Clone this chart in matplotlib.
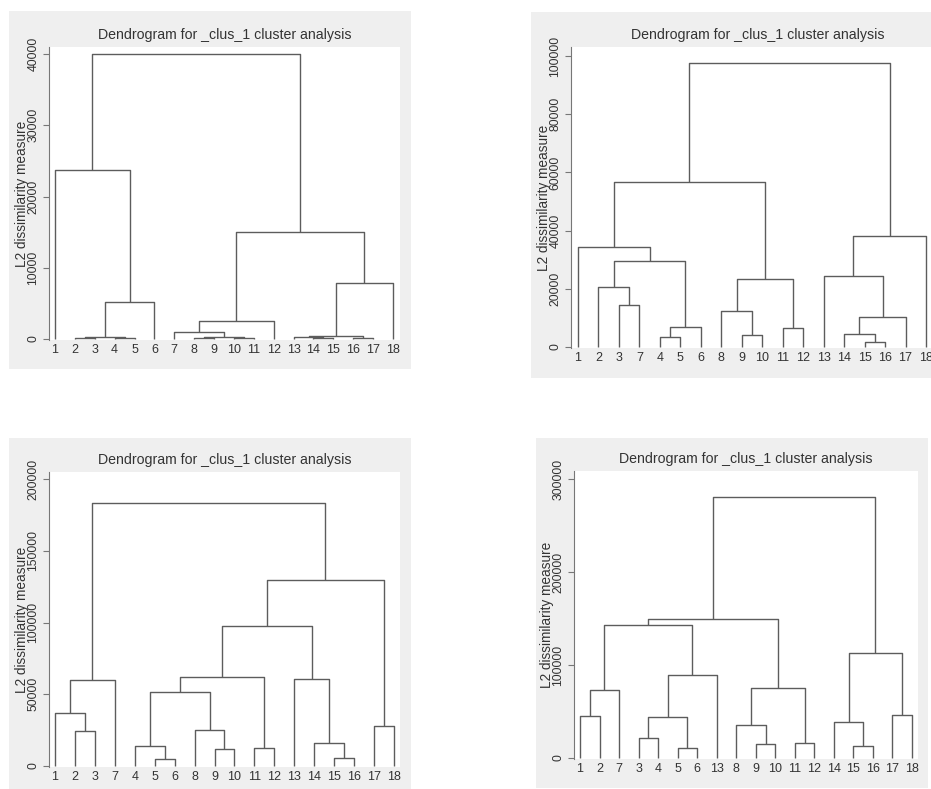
import matplotlib.pyplot as plt
from matplotlib.patches import Rectangle

# titulo e eixo (iguais nos quatro graficos)
title = 'Dendrogram for _clus_1 cluster analysis'
ylabel = 'L2 dissimilarity measure'

# ordem das folhas em cada dendrograma
order1 = [1, 2, 3, 4, 5, 6, 7, 8, 9, 10, 11, 12, 13, 14, 15, 16, 17, 18]
order2 = [1, 2, 3, 7, 4, 5, 6, 8, 9, 10, 11, 12, 13, 14, 15, 16, 17, 18]
order3 = [1, 2, 3, 7, 4, 5, 6, 8, 9, 10, 11, 12, 13, 14, 15, 16, 17, 18]
order4 = [1, 2, 7, 3, 4, 5, 6, 13, 8, 9, 10, 11, 12, 14, 15, 16, 17, 18]

# fusoes no estilo do hclust do R: negativo = folha, positivo = fusao anterior (1..)
merges1 = [(-4, -5, 90), (-2, -3, 150), (2, 1, 350), (3, -6, 5150), (-1, 4, 23700),
           (-8, -9, 100), (-10, -11, 120), (6, 7, 220), (-7, 8, 980), (9, -12, 2570),
           (-14, -15, 150), (-13, 11, 250), (-16, -17, 120), (12, 13, 370),
           (14, -18, 7860), (10, 15, 14970), (5, 16, 40000)]
merges2 = [(-3, -7, 14500), (-2, 1, 20600), (-4, -5, 3300), (3, -6, 7000), (2, 4, 29700),
           (-1, 5, 34400), (-9, -10, 4200), (-8, 7, 12500), (-11, -12, 6600), (8, 9, 23200),
           (6, 10, 56600), (-15, -16, 1600), (-14, 12, 4600), (13, -17, 10200),
           (-13, 14, 24400), (15, -18, 38000), (11, 16, 97700)]
merges3 = [(-2, -3, 24400), (-1, 1, 37000), (2, -7, 59800), (-5, -6, 5100), (-4, 4, 14200),
           (-9, -10, 11900), (-8, 6, 25100), (5, 7, 51700), (-11, -12, 12600), (8, 9, 62200),
           (-15, -16, 5400), (-14, 11, 15800), (-13, 12, 60300), (10, 13, 97800),
           (-17, -18, 27700), (14, 15, 129700), (3, 16, 183000)]
merges4 = [(-1, -2, 44900), (1, -7, 73200), (-3, -4, 21200), (-5, -6, 10400), (3, 4, 44100),
           (5, -13, 89700), (2, 6, 142800), (-9, -10, 14700), (-8, 8, 35500),
           (-11, -12, 15800), (9, 10, 75700), (7, 11, 150000), (-15, -16, 12900),
           (-14, 13, 38400), (-17, -18, 46600), (14, 15, 113000), (12, 16, 280600)]

yticks1 = [0, 10000, 20000, 30000, 40000]
yticks2 = [0, 20000, 40000, 60000, 80000, 100000]
yticks3 = [0, 50000, 100000, 150000, 200000]
yticks4 = [0, 100000, 200000, 300000]

W, H = 931, 789
bg = '#efefef'
line_col = '#5c5c5c'
txt_col = '#333333'
plt.rcParams['font.family'] = ['Liberation Sans', 'DejaVu Sans']

fig = plt.figure(figsize=(W / 100, H / 100), dpi=100)
fig.patch.set_facecolor('white')

# (fundo cinza x0,y0,x1,y1), (area branca L,T,R,B), (pixel do 0, pixel do tick max), (pixel folha 1, folha 18)
panels = [
    (order1, merges1, yticks1, (9, 11, 411, 369), (49, 47, 400, 340), (339, 54), (55, 393)),
    (order2, merges2, yticks2, (531, 12, 945, 378), (571, 47, 945, 348), (347, 56), (578, 926)),
    (order3, merges3, yticks3, (9, 438, 411, 789), (49, 472, 400, 767), (766, 479), (55, 394)),
    (order4, merges4, yticks4, (536, 438, 928, 788), (574, 471, 918, 759), (758, 479), (580, 912)),
]

for order, merges, yticks, gray, box, ypx, xpx in panels:
    gx0, gy0, gx1, gy1 = gray
    fig.add_artist(Rectangle((gx0 / W, 1 - gy1 / H), (gx1 - gx0) / W, (gy1 - gy0) / H,
                             transform=fig.transFigure, facecolor=bg, edgecolor='none', zorder=0))
    L, T, R, B = box
    ax = fig.add_axes([L / W, 1 - B / H, (R - L) / W, (B - T) / H])
    ax.set_facecolor('white')

    # limites a partir dos pixels lidos
    ytop = yticks[-1]
    sy = (ypx[0] - ypx[1]) / ytop
    ax.set_ylim(-(B - ypx[0]) / sy, ytop + (ypx[1] - T) / sy)
    sx = (xpx[1] - xpx[0]) / 17
    ax.set_xlim(1 - (xpx[0] - L) / sx, 18 + (R - xpx[1]) / sx)

    # desenha o dendrograma
    pos = {leaf: i + 1 for i, leaf in enumerate(order)}
    xs, hs = [], []
    def where(k):
        if k < 0:
            return pos[-k], 0
        return xs[k - 1], hs[k - 1]
    for a, b, h in merges:
        xa, ha = where(a)
        xb, hb = where(b)
        ax.plot([xa, xa, xb, xb], [ha, h, h, hb], color=line_col, lw=1.0,
                solid_capstyle='butt', clip_on=False)
        xs.append((xa + xb) / 2)
        hs.append(h)

    ax.set_xticks(range(1, 19))
    ax.set_xticklabels([str(v) for v in order])
    ax.tick_params(axis='x', length=0, pad=3, labelsize=9, labelcolor=txt_col)
    ax.set_yticks(yticks)
    ax.set_yticklabels([str(v) for v in yticks], rotation=90, va='center')
    ax.tick_params(axis='y', length=4, width=0.8, color='#777777', pad=3,
                   labelsize=8.8, labelcolor=txt_col)
    for s in ['top', 'right', 'bottom']:
        ax.spines[s].set_visible(False)
    ax.spines['left'].set_color('#777777')
    ax.spines['left'].set_linewidth(0.8)

    ax.set_ylabel(ylabel, fontsize=9.8, color=txt_col)
    ax.yaxis.set_label_coords(-20 / (R - L), 0.5)
    ax.set_title(title, fontsize=10.2, color=txt_col, pad=6)

fig.savefig('out.png', dpi=100)
